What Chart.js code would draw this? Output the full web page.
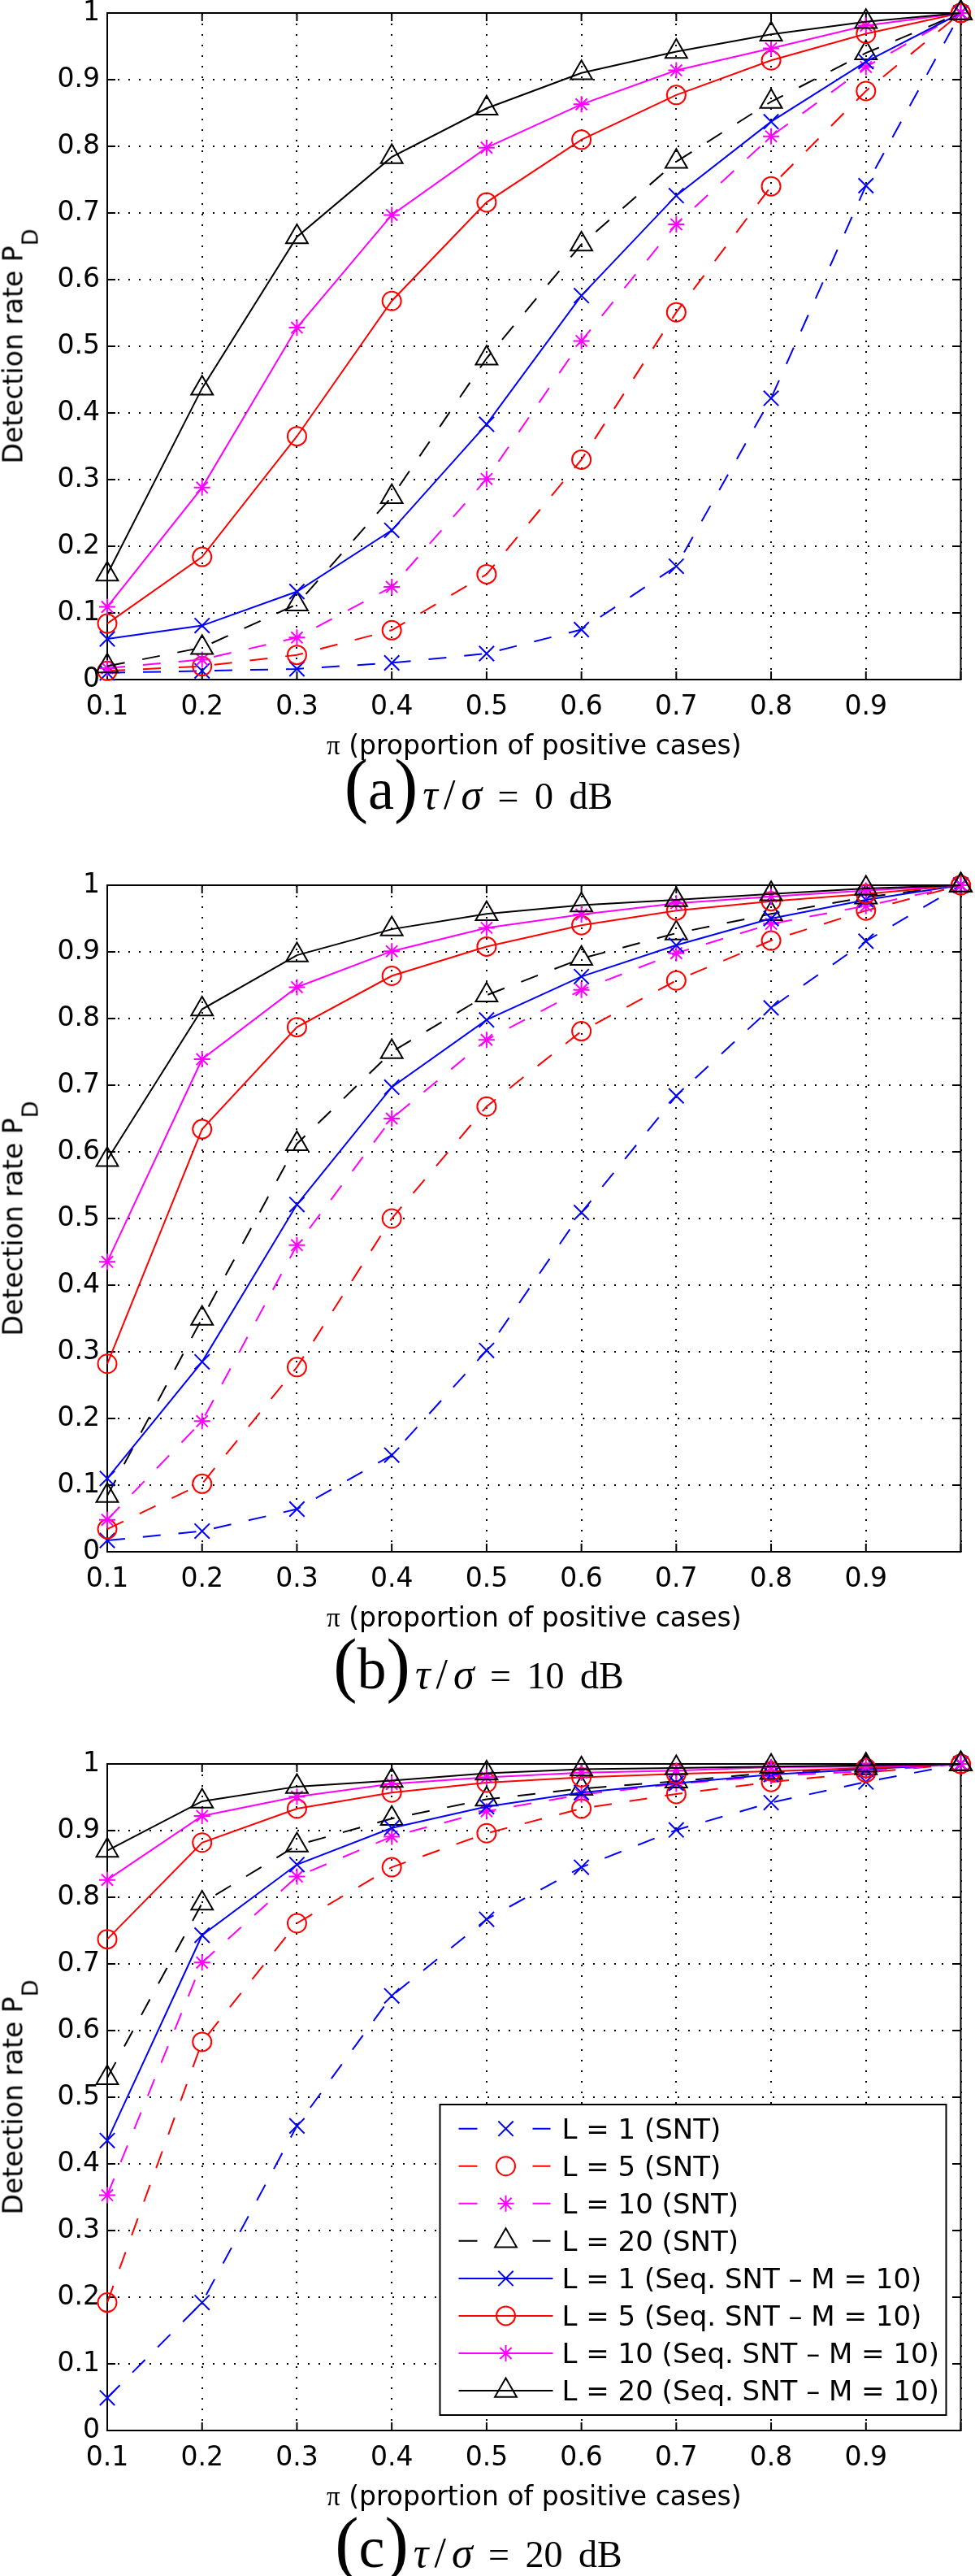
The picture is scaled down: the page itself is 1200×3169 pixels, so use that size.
<!DOCTYPE html>
<html>
<head>
<meta charset="utf-8">
<script src="https://cdn.jsdelivr.net/npm/chart.js@4.4.1/dist/chart.umd.min.js"></script>
<style>
  html, body { margin: 0; padding: 0; background: #fff; }
  body { position: relative; width: 1200px; height: 3169px; overflow: hidden; }
  canvas { position: absolute; left: 0; }
  .ylab { position: absolute; left: 16.5px; transform: translate(-50%, -50%) rotate(-90deg);
          font-family: 'DejaVu Sans'; font-size: 33px; line-height: 33px; white-space: nowrap; color: #000; }
  .ylab .sub { font-size: 27px; position: relative; top: 19px; }
  .xlab { position: absolute; left: 402px; font-family: 'DejaVu Sans'; font-size: 33px; line-height: 33px;
          white-space: nowrap; color: #000; }
  .xlab .pi { font-family: 'Liberation Serif'; }
  .cap { position: absolute; left: 589px; transform: translateX(-50%); font-family: 'Liberation Serif';
         font-size: 72px; line-height: 80px; white-space: nowrap; color: #000; }
  .cap .p { font-size: 88px; line-height: 0; }
  .cap .tg { font-size: 52px; margin-left: 6px; }
  .cap .sl { margin: 0 7px; }
  .cap .m { font-size: 46px; word-spacing: 8px; }
</style>
</head>
<body>
<canvas id="cA" width="1200" height="1000" style="top:-44px"></canvas>
<canvas id="cB" width="1200" height="1000" style="top:1029px"></canvas>
<canvas id="cC" width="1200" height="1000" style="top:2110px"></canvas>

<div class="ylab" style="top:426px">Detection rate P<span class="sub">D</span></div>
<div class="ylab" style="top:1499px">Detection rate P<span class="sub">D</span></div>
<div class="ylab" style="top:2580px">Detection rate P<span class="sub">D</span></div>

<div class="xlab" style="top:900px"><span class="pi">π</span> (proportion of positive cases)</div>
<div class="xlab" style="top:1973px"><span class="pi">π</span> (proportion of positive cases)</div>
<div class="xlab" style="top:3054px"><span class="pi">π</span> (proportion of positive cases)</div>

<div class="cap" style="top:931px"><span class="p">(</span>a<span class="p">)</span><span class="tg"><i>τ</i><span class="sl">/</span><i>σ</i></span><span class="m"> = 0 dB</span></div>
<div class="cap" style="top:2013px"><span class="p">(</span>b<span class="p">)</span><span class="tg"><i>τ</i><span class="sl">/</span><i>σ</i></span><span class="m"> = 10 dB</span></div>
<div class="cap" style="top:3094px"><span class="p">(</span>c<span class="p">)</span><span class="tg"><i>τ</i><span class="sl">/</span><i>σ</i></span><span class="m"> = 20 dB</span></div>

<script>
// ---- categories / ticks ----
const piValues    = [0.1, 0.2, 0.3, 0.4, 0.5, 0.6, 0.7, 0.8, 0.9, 1.0];
const xTickValues = [0.1, 0.2, 0.3, 0.4, 0.5, 0.6, 0.7, 0.8, 0.9, 1.0];
const xTickLabels = ['0.1', '0.2', '0.3', '0.4', '0.5', '0.6', '0.7', '0.8', '0.9', ''];
const yTickValues = [0, 0.1, 0.2, 0.3, 0.4, 0.5, 0.6, 0.7, 0.8, 0.9, 1.0];
const yTickLabels = ['0', '0.1', '0.2', '0.3', '0.4', '0.5', '0.6', '0.7', '0.8', '0.9', '1'];

// ---- series names ----
const seriesLabels = [
  'L = 1 (SNT)', 'L = 5 (SNT)', 'L = 10 (SNT)', 'L = 20 (SNT)',
  'L = 1 (Seq. SNT – M = 10)', 'L = 5 (Seq. SNT – M = 10)',
  'L = 10 (Seq. SNT – M = 10)', 'L = 20 (Seq. SNT – M = 10)'
];

// ---- (a) tau/sigma = 0 dB ----
const pd0_SNT_L1  = [0.010, 0.013, 0.016, 0.025, 0.039, 0.075, 0.170, 0.422, 0.741, 1.0];
const pd0_SNT_L5  = [0.013, 0.020, 0.037, 0.074, 0.158, 0.330, 0.551, 0.740, 0.883, 1.0];
const pd0_SNT_L10 = [0.017, 0.030, 0.063, 0.139, 0.301, 0.508, 0.683, 0.815, 0.919, 1.0];
const pd0_SNT_L20 = [0.020, 0.048, 0.113, 0.274, 0.482, 0.653, 0.777, 0.867, 0.940, 1.0];
const pd0_SEQ_L1  = [0.061, 0.081, 0.132, 0.224, 0.383, 0.576, 0.726, 0.837, 0.927, 1.0];
const pd0_SEQ_L5  = [0.084, 0.184, 0.365, 0.568, 0.716, 0.810, 0.877, 0.929, 0.969, 1.0];
const pd0_SEQ_L10 = [0.109, 0.288, 0.528, 0.697, 0.798, 0.863, 0.914, 0.947, 0.981, 1.0];
const pd0_SEQ_L20 = [0.158, 0.437, 0.664, 0.784, 0.857, 0.910, 0.942, 0.968, 0.987, 1.0];

// ---- (b) tau/sigma = 10 dB ----
const pd10_SNT_L1  = [0.017, 0.031, 0.064, 0.145, 0.302, 0.509, 0.684, 0.816, 0.916, 1.0];
const pd10_SNT_L5  = [0.034, 0.102, 0.277, 0.500, 0.668, 0.781, 0.857, 0.917, 0.962, 1.0];
const pd10_SNT_L10 = [0.048, 0.196, 0.460, 0.650, 0.768, 0.843, 0.898, 0.942, 0.969, 1.0];
const pd10_SNT_L20 = [0.084, 0.350, 0.612, 0.750, 0.835, 0.890, 0.928, 0.957, 0.982, 1.0];
const pd10_SEQ_L1  = [0.110, 0.285, 0.521, 0.697, 0.798, 0.863, 0.910, 0.950, 0.978, 1.0];
const pd10_SEQ_L5  = [0.282, 0.634, 0.787, 0.864, 0.908, 0.940, 0.962, 0.976, 0.987, 1.0];
const pd10_SEQ_L10 = [0.435, 0.739, 0.847, 0.901, 0.936, 0.956, 0.973, 0.983, 0.992, 1.0];
const pd10_SEQ_L20 = [0.588, 0.814, 0.895, 0.934, 0.957, 0.970, 0.978, 0.987, 0.995, 1.0];

// ---- (c) tau/sigma = 20 dB ----
const pd20_SNT_L1  = [0.049, 0.192, 0.457, 0.652, 0.767, 0.845, 0.901, 0.942, 0.973, 1.0];
const pd20_SNT_L5  = [0.192, 0.583, 0.761, 0.845, 0.896, 0.933, 0.955, 0.973, 0.987, 1.0];
const pd20_SNT_L10 = [0.353, 0.702, 0.831, 0.891, 0.929, 0.954, 0.970, 0.982, 0.989, 1.0];
const pd20_SNT_L20 = [0.529, 0.791, 0.878, 0.918, 0.947, 0.963, 0.974, 0.987, 0.994, 1.0];
const pd20_SEQ_L1  = [0.435, 0.743, 0.849, 0.904, 0.936, 0.957, 0.971, 0.984, 0.992, 1.0];
const pd20_SEQ_L5  = [0.737, 0.882, 0.933, 0.957, 0.972, 0.980, 0.985, 0.989, 0.994, 1.0];
const pd20_SEQ_L10 = [0.826, 0.922, 0.951, 0.970, 0.980, 0.987, 0.990, 0.995, 0.996, 1.0];
const pd20_SEQ_L20 = [0.870, 0.944, 0.966, 0.975, 0.986, 0.992, 0.994, 0.996, 0.998, 1.0];

// ---- styles ----
const seriesColors  = ['#0000ff', '#ff0000', '#ff00ff', '#000000', '#0000ff', '#ff0000', '#ff00ff', '#000000'];
const seriesMarkers = ['crossRot', 'circle', 'star', 'triangle', 'crossRot', 'circle', 'star', 'triangle'];
const seriesDashed  = [true, true, true, true, false, false, false, false];
const markerRadius  = { crossRot: 13, circle: 11.5, star: 10, triangle: 15.5 };
const TICK_FONT = { family: "'DejaVu Sans'", size: 33 };

function drawMarker(ctx, style, x, y, r) {
  ctx.beginPath();
  if (style === 'circle') {
    ctx.arc(x, y, r, 0, Math.PI * 2);
  } else if (style === 'crossRot') {
    const d = r * Math.SQRT1_2;
    ctx.moveTo(x - d, y - d); ctx.lineTo(x + d, y + d);
    ctx.moveTo(x - d, y + d); ctx.lineTo(x + d, y - d);
  } else if (style === 'star') {
    const d = r * Math.SQRT1_2;
    ctx.moveTo(x - r, y); ctx.lineTo(x + r, y);
    ctx.moveTo(x, y - r); ctx.lineTo(x, y + r);
    ctx.moveTo(x - d, y - d); ctx.lineTo(x + d, y + d);
    ctx.moveTo(x - d, y + d); ctx.lineTo(x + d, y - d);
  } else if (style === 'triangle') {
    let a = 0;
    ctx.moveTo(x + Math.sin(a) * r, y - Math.cos(a) * r);
    a += 2 * Math.PI / 3; ctx.lineTo(x + Math.sin(a) * r, y - Math.cos(a) * r);
    a += 2 * Math.PI / 3; ctx.lineTo(x + Math.sin(a) * r, y - Math.cos(a) * r);
    ctx.closePath();
  }
  ctx.stroke();
}

const framePlugin = {
  id: 'matlabFrame',
  beforeDatasetsDraw(chart) {
    const { ctx, chartArea: a, scales: { x, y } } = chart;
    ctx.save();
    ctx.strokeStyle = '#000';
    ctx.lineWidth = 2;
    ctx.setLineDash([]);
    ctx.beginPath();
    xTickValues.forEach(v => {
      const px = x.getPixelForValue(v);
      ctx.moveTo(px, a.bottom); ctx.lineTo(px, a.bottom - 10);
      ctx.moveTo(px, a.top); ctx.lineTo(px, a.top + 10);
    });
    yTickValues.forEach(v => {
      const py = y.getPixelForValue(v);
      ctx.moveTo(a.left, py); ctx.lineTo(a.left + 10, py);
      ctx.moveTo(a.right, py); ctx.lineTo(a.right - 10, py);
    });
    ctx.stroke();
    ctx.strokeRect(a.left, a.top, a.right - a.left, a.bottom - a.top);
    ctx.restore();
  }
};

const legendPlugin = {
  id: 'matlabLegend',
  afterDatasetsDraw(chart) {
    const { ctx, chartArea: a } = chart;
    const W = 623, H = 382;
    const L = a.right - 18 - W, T = a.bottom - 19 - H;
    ctx.save();
    ctx.fillStyle = '#fff';
    ctx.fillRect(L, T, W, H);
    ctx.strokeStyle = '#000';
    ctx.lineWidth = 2;
    ctx.setLineDash([]);
    ctx.strokeRect(L, T, W, H);
    chart.data.datasets.forEach((ds, i) => {
      const cy = T + 29.7 + i * 46.05;
      ctx.strokeStyle = ds.borderColor;
      ctx.lineWidth = 2;
      ctx.setLineDash(ds.borderDash.length ? [23, 68, 22, 100] : []);
      ctx.beginPath();
      ctx.moveTo(L + 23, cy); ctx.lineTo(L + 139, cy);
      ctx.stroke();
      ctx.setLineDash([]);
      drawMarker(ctx, ds.pointStyle, L + 81, cy, ds.pointRadius);
      ctx.fillStyle = '#000';
      ctx.font = "34px 'DejaVu Sans'";
      ctx.textBaseline = 'alphabetic';
      ctx.textAlign = 'left';
      ctx.fillText(ds.label, L + 150, cy + 12.3);
    });
    ctx.restore();
  }
};

function makeChart(canvasId, seriesValues, withLegend) {
  const datasets = seriesValues.map((vals, i) => ({
    label: seriesLabels[i],
    data: piValues.map((x, k) => ({ x: x, y: vals[k] })),
    borderColor: seriesColors[i],
    backgroundColor: 'rgba(0,0,0,0)',
    borderWidth: 2,
    borderDash: seriesDashed[i] ? [22, 22] : [],
    pointStyle: seriesMarkers[i],
    pointRadius: markerRadius[seriesMarkers[i]],
    pointBorderWidth: 2,
    pointBorderColor: seriesColors[i],
    pointBackgroundColor: 'rgba(0,0,0,0)',
    fill: false,
    tension: 0,
    clip: false,
    order: 10 - i
  }));
  const plugins = [framePlugin];
  if (withLegend) plugins.push(legendPlugin);
  return new Chart(document.getElementById(canvasId), {
    type: 'line',
    data: { datasets },
    plugins,
    options: {
      responsive: false,
      animation: false,
      devicePixelRatio: 1,
      layout: { padding: { top: 60, right: 16, bottom: 0, left: 0 } },
      plugins: { legend: { display: false }, tooltip: { enabled: false }, title: { display: false } },
      scales: {
        x: {
          type: 'linear', min: 0.1, max: 1.0,
          afterBuildTicks: s => { s.ticks = xTickValues.map(v => ({ value: v })); },
          afterFit: s => { s.height = 120; },
          ticks: { callback: (v, i) => xTickLabels[i], font: TICK_FONT, color: '#000', padding: 15,
                   maxRotation: 0, minRotation: 0, autoSkip: false },
          grid: { color: '#000', lineWidth: 2, drawTicks: false },
          border: { display: false, dash: [2, 11] }
        },
        y: {
          type: 'linear', min: 0, max: 1,
          afterBuildTicks: s => { s.ticks = yTickValues.map(v => ({ value: v })); },
          afterFit: s => { s.width = 132; },
          ticks: { callback: (v, i) => yTickLabels[i], font: TICK_FONT, color: '#000', padding: 9, autoSkip: false },
          grid: { color: '#000', lineWidth: 2, drawTicks: false },
          border: { display: false, dash: [2, 11] }
        }
      }
    }
  });
}

makeChart('cA', [pd0_SNT_L1, pd0_SNT_L5, pd0_SNT_L10, pd0_SNT_L20,
                 pd0_SEQ_L1, pd0_SEQ_L5, pd0_SEQ_L10, pd0_SEQ_L20], false);
makeChart('cB', [pd10_SNT_L1, pd10_SNT_L5, pd10_SNT_L10, pd10_SNT_L20,
                 pd10_SEQ_L1, pd10_SEQ_L5, pd10_SEQ_L10, pd10_SEQ_L20], false);
makeChart('cC', [pd20_SNT_L1, pd20_SNT_L5, pd20_SNT_L10, pd20_SNT_L20,
                 pd20_SEQ_L1, pd20_SEQ_L5, pd20_SEQ_L10, pd20_SEQ_L20], true);
</script>
</body>
</html>
